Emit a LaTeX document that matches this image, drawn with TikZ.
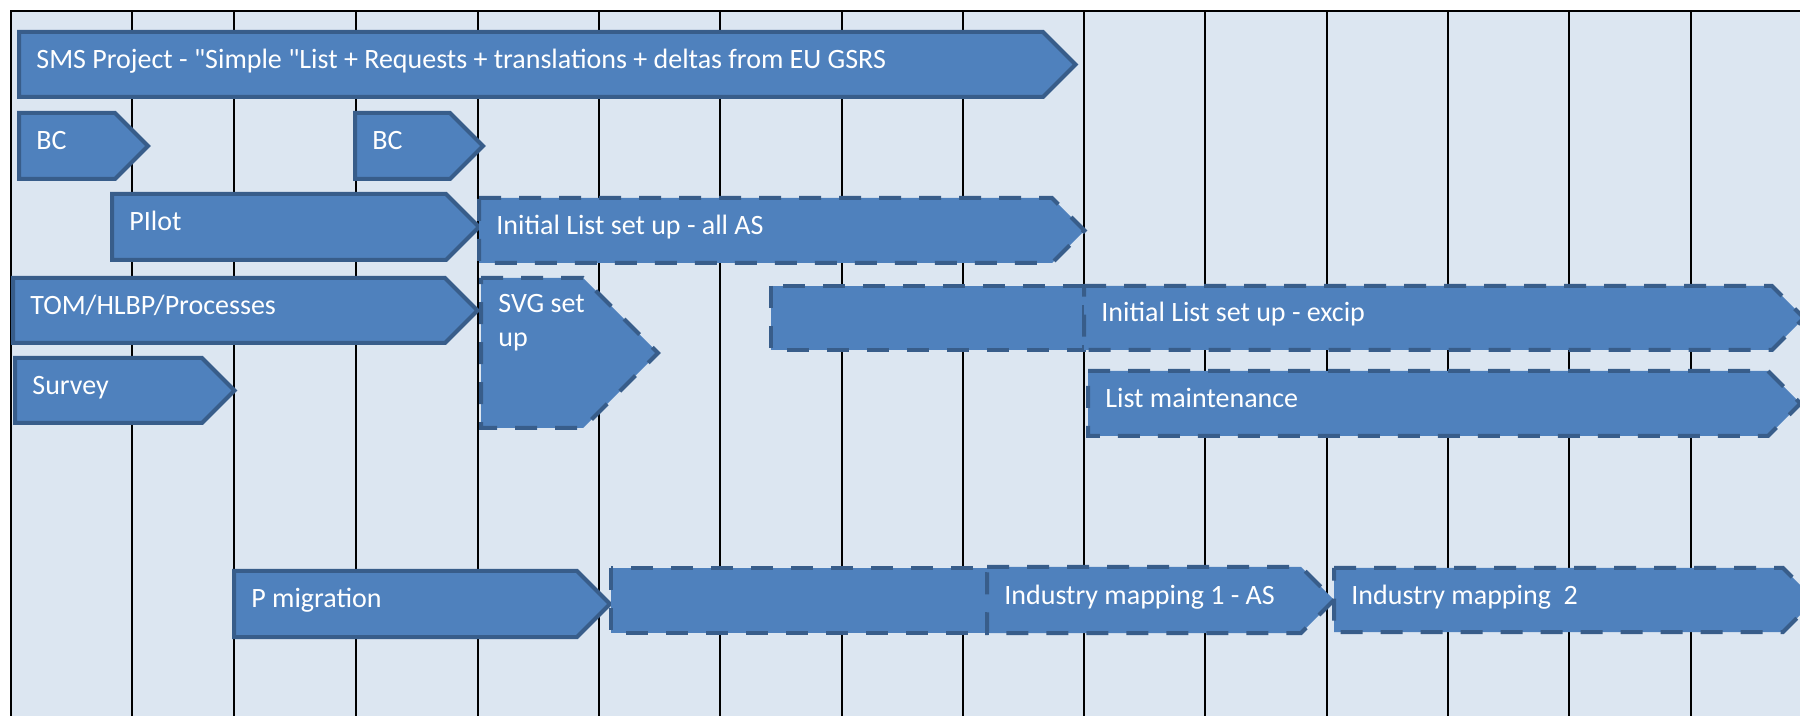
\documentclass[tikz,border=0pt]{standalone}
\usepackage{fontspec}
\setmainfont{Carlito}
\usetikzlibrary{calc}

\definecolor{chartbg}{HTML}{DCE6F1}
\definecolor{barfill}{HTML}{4F81BD}
\definecolor{barline}{HTML}{385D8A}

\begin{document}
\begin{tikzpicture}[x=0.5pt, y=-0.5pt,
	bar/.style={draw=barline, fill=barfill, line width=2pt},
	planned/.style={bar, dash pattern=on 11pt off 9pt},
	lbl/.style={anchor=base west, inner sep=0pt, text=white, align=left,
		font=\fontsize{14}{17}\selectfont}]
\useasboundingbox (0,0) rectangle (1800,716);
\begin{scope}
	\clip (0,0) rectangle (1800,716);
	% grid
	\fill[chartbg] (11,11) rectangle (1800,716);
	\draw[line width=1.2pt] (11,716) -- (11,11) -- (1800,11);
\foreach \x in {132,234,356,478,599,720,842,963,1084,1205,1327,1448,1569,1691}
	\draw[line width=1pt] (\x,11) -- (\x,716);

	% solid bars
	\draw[bar] (19,32) -- (1043,32) -- ++(32.5,32.5) -- (1043,97) -- (19,97) -- cycle;
	\draw[bar] (19,113) -- (115,113) -- ++(33,33) -- (115,179) -- (19,179) -- cycle;
	\draw[bar] (355,113) -- (450,113) -- ++(33,33) -- (450,179) -- (355,179) -- cycle;
	\draw[bar] (112,194) -- (446,194) -- ++(33,33) -- (446,260) -- (112,260) -- cycle;
	\draw[bar] (13,278) -- (445,278) -- ++(32.5,32.5) -- (445,343) -- (13,343) -- cycle;
	\draw[bar] (15,358) -- (202,358) -- ++(32.5,32.5) -- (202,423) -- (15,423) -- cycle;
	\draw[bar] (234,571) -- (577,571) -- ++(33,33) -- (577,637) -- (234,637) -- cycle;

	% dashed bars
	\draw[planned] (479,198) -- (1052,198) -- ++(32.5,32.5) -- (1052,263) -- (479,263) -- cycle;
	\draw[planned] (481,278) -- (583,278) -- ++(75,75) -- (583,428) -- (481,428) -- cycle;
	\draw[planned] (771,286) rectangle (1084,350);
	\draw[planned] (1084,286) -- (1772,286) -- ++(32,32) -- (1772,350) -- (1084,350) -- cycle;
	\draw[planned] (1088,371) -- (1768,371) -- ++(32.5,32.5) -- (1768,436) -- (1088,436) -- cycle;
	\draw[planned] (611,568) rectangle (987,633);
	\draw[planned] (987,567) -- (1301,567) -- ++(33,33) -- (1301,633) -- (987,633) -- cycle;
	\draw[planned] (1334,568) -- (1783,568) -- ++(32,32) -- (1783,632) -- (1334,632) -- cycle;
\end{scope}

	% labels
	\node[lbl] (sms) at (36,69) {SMS Project - \textquotedbl Simple \textquotedbl List + Requests + translations + deltas from EU GSRS};
	\node[lbl] (bc1) at (36,150) {BC};
	\node[lbl] (bc2) at (372,150) {BC};
	\node[lbl] (pilot) at (129,231) {PIlot};
	\node[lbl] (allas) at (496,234.5) {Initial List set up - all AS};
	\node[lbl] (tom) at (30,314.5) {TOM/HLBP/Processes};
	\node[lbl] (svg) at (498,347) {SVG set\\up};
	\node[lbl] (survey) at (32,394.5) {Survey};
	\node[lbl] (excip) at (1101,322) {Initial List set up - excip};
	\node[lbl] (maint) at (1105,407.5) {List maintenance};
	\node[lbl] (pmig) at (251,608) {P migration};
	\node[lbl] (imap1) at (1004,604) {Industry mapping 1 - AS};
	\node[lbl] (imap2) at (1351,604) {Industry mapping\ \ 2};
\end{tikzpicture}
\end{document}
